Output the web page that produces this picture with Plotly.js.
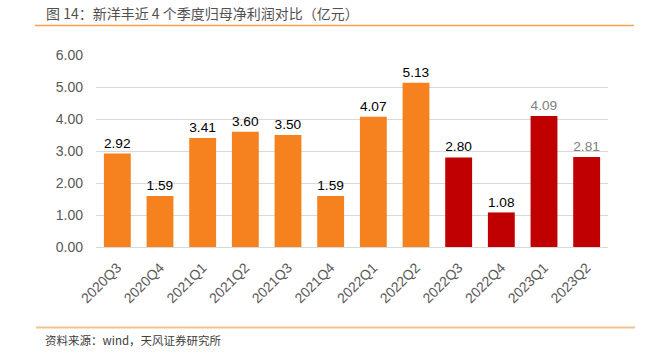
<!DOCTYPE html>
<html><head><meta charset="utf-8">
<script src="https://cdn.plot.ly/plotly-3.0.1.min.js"></script>
<style>html,body{margin:0;padding:0;background:#fff}#c{width:648px;height:353px}</style>
</head><body><div id="c"></div>
<script>
const categories = ['2020Q3','2020Q4','2021Q1','2021Q2','2021Q3','2021Q4','2022Q1','2022Q2','2022Q3','2022Q4','2023Q1','2023Q2'];
const values = [2.92,1.59,3.41,3.60,3.50,1.59,4.07,5.13,2.80,1.08,4.09,2.81];
const barColors = ['#F5821F','#F5821F','#F5821F','#F5821F','#F5821F','#F5821F','#F5821F','#F5821F','#C00000','#C00000','#C00000','#C00000'];
const labelColors = ['#000','#000','#000','#000','#000','#000','#000','#000','#000','#000','#808080','#808080'];
const tickVals = [0,1,2,3,4,5,6];

const L=96, R=40, T=55, B=106, H=353-T-B, W=648-L-R;
const py = y => (353-B-y)/H;   // pixel y -> paper y
const px = x => (x-L)/W;       // pixel x -> paper x

Plotly.newPlot('c', [{
  type:'bar', x:categories, y:values,
  marker:{color:barColors},
  text:values.map(v=>v.toFixed(2)), textposition:'outside', cliponaxis:false,
  textfont:{family:'Liberation Sans, Arial, sans-serif', size:14, color:labelColors},
  hoverinfo:'none'
}], {
  width:648, height:353,
  margin:{l:L, r:R, t:T, b:B},
  paper_bgcolor:'#fff', plot_bgcolor:'#fff',
  bargap:0.37, showlegend:false,
  xaxis:{type:'category', tickangle:-45, showline:true, linecolor:'#d9d9d9', linewidth:1,
    ticks:'', ticklabelstandoff:6, tickfont:{family:'Liberation Sans, Arial, sans-serif', size:14, color:'#595959'}},
  yaxis:{range:[0,6], tickvals:tickVals, tickformat:'.2f', showgrid:true, gridcolor:'#d9d9d9',
    zeroline:false, ticks:'', ticklabelstandoff:12, tickfont:{family:'Liberation Sans, Arial, sans-serif', size:14, color:'#595959'}},
  shapes:[
    {type:'line', xref:'paper', yref:'paper', x0:px(35), x1:px(634), y0:py(25.5), y1:py(25.5), line:{color:'#F7A04F', width:1.5}},
    {type:'line', xref:'paper', yref:'paper', x0:px(36), x1:px(635), y0:py(327.5), y1:py(327.5), line:{color:'#F7C08F', width:2}}
  ],
  annotations:[
    {xref:'paper', yref:'paper', x:px(44), y:py(13), xanchor:'left', yanchor:'middle', showarrow:false,
     text:'图 14：新洋丰近 4 个季度归母净利润对比（亿元）', font:{family:'Noto Sans CJK SC', size:14, color:'#505050'}},
    {xref:'paper', yref:'paper', x:px(43), y:py(340), xanchor:'left', yanchor:'middle', showarrow:false,
     text:'资料来源：wind，天风证券研究所', font:{family:'Noto Sans CJK SC', size:11.5, color:'#404040'}}
  ]
}, {displayModeBar:false, staticPlot:true});
</script></body></html>
